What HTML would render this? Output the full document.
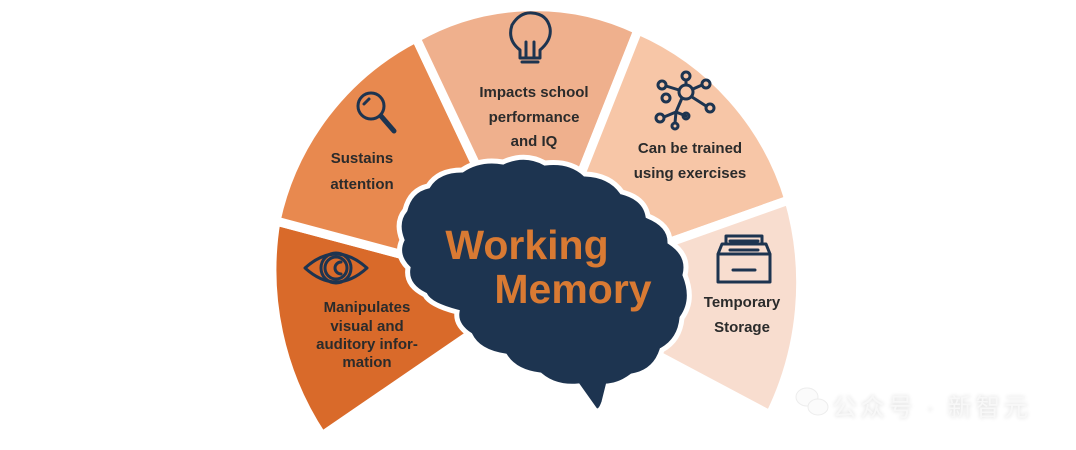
<!DOCTYPE html>
<html><head><meta charset="utf-8">
<style>
html,body{margin:0;padding:0;background:#fff;width:1076px;height:450px;overflow:hidden}
svg{display:block}
.l{font-family:"Liberation Sans",sans-serif;font-weight:bold;font-size:15px;fill:#2b2b2b;text-anchor:middle}
.t{font-family:"Liberation Sans",sans-serif;font-weight:bold;font-size:41px;fill:#d97a33;text-anchor:middle}
.ic{fill:none;stroke:#1d3450;stroke-width:3;stroke-linecap:round;stroke-linejoin:round}
</style></head><body>
<svg width="1076" height="450" viewBox="0 0 1076 450" xmlns="http://www.w3.org/2000/svg">
<g stroke="#fff" stroke-width="9" stroke-linejoin="round">
<path d="M535,290 L322,436 A300,300 0 0 1 276,221 Z" fill="#d96a2a"/>
<path d="M535,290 L276,221 A270,270 0 0 1 416,38 Z" fill="#e8894f"/>
<path d="M535,290 L416,38 A240,240 0 0 1 638,30 Z" fill="#efb08d"/>
<path d="M535,290 L638,30 A270,270 0 0 1 789,200 Z" fill="#f7c6a7"/>
<path d="M535,290 L789,200 A300,300 0 0 1 770,415 Z" fill="#f8ddcf"/>
</g>
<path d="M405,210 Q410,190 428,186 Q438,170 462,170 Q480,158 503,162 Q525,152 545,163 Q570,160 585,174 Q610,175 622,192 Q645,198 648,216 Q670,225 670,242 Q690,255 685,275 Q695,300 682,318 Q680,340 662,350 Q655,372 632,376 Q620,385 608,386 L604,402 Q600,414 595,410 L578,386 Q555,388 540,375 Q515,372 505,356 Q478,352 470,335 Q455,325 457,312 Q430,305 425,295 Q405,285 408,268 Q395,255 402,240 Q395,222 405,210 Z" fill="#1d3450" stroke="#fff" stroke-width="5"/>
<text class="t" x="527" y="259">Working</text>
<text class="t" x="573" y="303">Memory</text>
<text class="l"><tspan x="367" y="312">Manipulates</tspan><tspan x="367" y="331">visual and</tspan><tspan x="367" y="349">auditory infor-</tspan><tspan x="367" y="367">mation</tspan></text>
<text class="l"><tspan x="362" y="163">Sustains</tspan><tspan x="362" y="189">attention</tspan></text>
<text class="l"><tspan x="534" y="97">Impacts school</tspan><tspan x="534" y="122">performance</tspan><tspan x="534" y="146">and IQ</tspan></text>
<text class="l"><tspan x="690" y="153">Can be trained</tspan><tspan x="690" y="178">using exercises</tspan></text>
<text class="l"><tspan x="742" y="307">Temporary</tspan><tspan x="742" y="332">Storage</tspan></text>
<g class="ic">
<path d="M305,268 Q336,240 367,268 Q336,296 305,268 Z"/>
<circle cx="336" cy="268" r="11"/><path d="M341,262 A6,6 0 1 0 341,274"/><circle cx="336" cy="268" r="15"/>
<circle cx="371" cy="106" r="13"/><path d="M381,116 L394,131" stroke-width="5"/><path d="M364,104 L369,99"/>
<path d="M520,50 Q507,40 512,25 Q520,12 532,13 Q547,14 550,28 Q552,40 540,50 L540,58 L520,58 Z"/><path d="M522,62 L538,62 M526,58 L526,42 M534,58 L534,42"/>
<circle cx="686" cy="92" r="7"/><circle cx="662" cy="85" r="4"/><circle cx="706" cy="84" r="4"/><circle cx="710" cy="108" r="4"/><circle cx="666" cy="98" r="4"/><circle cx="660" cy="118" r="4"/><circle cx="686" cy="116" r="3"/><circle cx="675" cy="126" r="3"/><circle cx="686" cy="76" r="4"/>
<path d="M679,90 L666,86 M693,89 L702,85 M692,97 L706,106 M682,98 L676,112 L664,117 M676,112 L686,116 M676,112 L675,123 M686,80 L686,85"/>
<path d="M718,254 L770,254 L770,282 L718,282 Z M718,254 L722,244 L766,244 L770,254 M726,244 L726,236 L762,236 L762,244 M730,250 L758,250 M730,241 L758,241 M733,270 L755,270"/>
</g>
<g opacity="0.35">
<ellipse cx="807" cy="397" rx="11" ry="9" fill="#f4f4f4" stroke="#ccc"/>
<ellipse cx="818" cy="407" rx="10" ry="8" fill="#f4f4f4" stroke="#ccc"/>
</g>
<text x="832" y="416" font-family="Liberation Sans,'Noto Sans CJK SC',sans-serif" font-size="25" letter-spacing="3" fill="#f8f8f8" style="text-shadow:0 0 4px #d8d8d8">公众号 · 新智元</text>
</svg>
</body></html>
